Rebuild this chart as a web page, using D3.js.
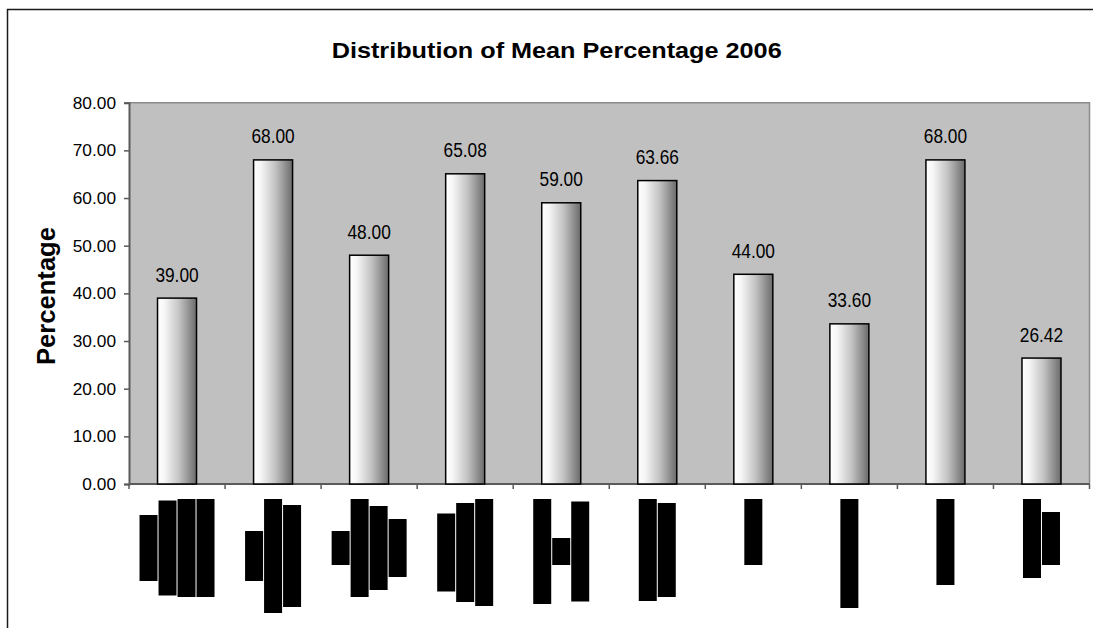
<!DOCTYPE html>
<html>
<head>
<meta charset="utf-8">
<script src="https://cdn.jsdelivr.net/npm/d3@7/dist/d3.min.js"></script>
<style>
  html, body { margin: 0; padding: 0; background: #fff; overflow: hidden; }
  svg { display: block; font-family: "Liberation Sans", Arial, sans-serif; }
</style>
</head>
<body>
<svg id="chart" width="1093" height="628"></svg>
<script>
// Mean percentage per category, 2006
const categories = ["C1", "C2", "C3", "C4", "C5", "C6", "C7", "C8", "C9", "C10"];
const meanValues = [39.00, 68.00, 48.00, 65.08, 59.00, 63.66, 44.00, 33.60, 68.00, 26.42];
const yTicks = [0, 10, 20, 30, 40, 50, 60, 70, 80];
// Category names are blacked out: length of each blacked-out (rotated) line, per category
const redactedLines = [
  [66, 95, 98, 98],
  [50, 114, 102],
  [34, 98, 84, 58],
  [78, 99, 107],
  [105, 27, 100],
  [102, 94],
  [66],
  [109],
  [86],
  [79, 53]
];

const svg = d3.select("#chart");
const plot = { left: 129, right: 1089.5, top: 102.7, bottom: 484 };

// Outer chart frame (top and left edges visible)
svg.append("path")
  .attr("d", "M7.5,640 L7.5,9.5 L1110,9.5")
  .attr("fill", "none").attr("stroke", "#1a1a1a").attr("stroke-width", 1.5);

// Gradient used by every bar
const defs = svg.append("defs");
const grad = defs.append("linearGradient").attr("id", "barGrad")
  .attr("x1", "0%").attr("x2", "100%").attr("y1", "0%").attr("y2", "0%");
[[0, "#ffffff"], [0.18, "#f6f6f6"], [0.55, "#c4c4c4"], [0.8, "#939393"], [1, "#6a6a6a"]]
  .forEach(([o, c]) => grad.append("stop").attr("offset", o).attr("stop-color", c));

const x = d3.scaleBand().domain(categories)
  .range([plot.left, plot.right]).paddingInner(0.594).paddingOuter(0.297);
const y = d3.scaleLinear().domain([0, 80]).range([plot.bottom, plot.top]);

// Plot area background
svg.append("rect")
  .attr("x", plot.left).attr("y", plot.top)
  .attr("width", plot.right - plot.left).attr("height", plot.bottom - plot.top)
  .attr("fill", "#c0c0c0");
svg.append("path")
  .attr("d", `M${plot.left},${plot.top} L${plot.right},${plot.top} L${plot.right},${plot.bottom}`)
  .attr("fill", "none").attr("stroke", "#8a8a8a").attr("stroke-width", 1.5);

// Title
svg.append("text")
  .attr("x", 556.7).attr("y", 57.5)
  .attr("text-anchor", "middle")
  .attr("font-weight", "bold").attr("font-size", 21.5)
  .attr("textLength", 450).attr("lengthAdjust", "spacingAndGlyphs")
  .text("Distribution of Mean Percentage 2006");

// Y axis title
svg.append("text")
  .attr("transform", "translate(55,296) rotate(-90)")
  .attr("text-anchor", "middle")
  .attr("font-weight", "bold").attr("font-size", 25.6)
  .text("Percentage");

// Y axis
const yAxis = svg.append("g")
  .attr("transform", `translate(${plot.left},0)`)
  .call(d3.axisLeft(y).tickValues(yTicks).tickSize(5).tickPadding(8).tickFormat(d3.format(".2f")));
yAxis.select(".domain").attr("stroke", "#5a5a5a").attr("stroke-width", 2);
yAxis.selectAll(".tick line").attr("stroke", "#5a5a5a").attr("stroke-width", 1.5);
yAxis.selectAll(".tick text")
  .attr("font-size", 17.3).attr("fill", "#000")
  .attr("font-family", "Liberation Sans, Arial, sans-serif");

// X axis with ticks between categories
const step = x.step();
const boundaries = d3.range(categories.length + 1).map(i => plot.left + i * step);
svg.append("line")
  .attr("x1", plot.left).attr("x2", plot.right)
  .attr("y1", plot.bottom).attr("y2", plot.bottom)
  .attr("stroke", "#5a5a5a").attr("stroke-width", 2);
svg.append("g").selectAll("line").data(boundaries).join("line")
  .attr("x1", d => d).attr("x2", d => d)
  .attr("y1", plot.bottom).attr("y2", plot.bottom + 5)
  .attr("stroke", "#5a5a5a").attr("stroke-width", 1.5);

// Bars
svg.append("g").selectAll("rect").data(meanValues).join("rect")
  .attr("x", (d, i) => x(categories[i]))
  .attr("y", d => y(d))
  .attr("width", x.bandwidth())
  .attr("height", d => y(0) - y(d))
  .attr("fill", "url(#barGrad)")
  .attr("stroke", "#000").attr("stroke-width", 1.5);

// Value labels
svg.append("g").selectAll("text").data(meanValues).join("text")
  .attr("x", (d, i) => x(categories[i]) + x.bandwidth() / 2)
  .attr("y", d => y(d) - 16.5)
  .attr("text-anchor", "middle")
  .attr("font-size", 19.5)
  .attr("textLength", 43.3).attr("lengthAdjust", "spacingAndGlyphs")
  .text(d => d.toFixed(2));

// Blacked-out category names (rotated lines, block centred on each category)
const lineW = 18, linePitch = 19, blockTop = 499;
const labels = svg.append("g");
redactedLines.forEach((lines, i) => {
  const cx = x(categories[i]) + x.bandwidth() / 2;
  const maxLen = d3.max(lines);
  const midY = blockTop + maxLen / 2;
  const x0 = cx - (lines.length * linePitch - 1) / 2;
  labels.selectAll(null).data(lines).join("rect")
    .attr("x", (d, j) => x0 + j * linePitch)
    .attr("y", d => midY - d / 2)
    .attr("width", lineW)
    .attr("height", d => d)
    .attr("fill", "#000");
});
</script>
</body>
</html>
